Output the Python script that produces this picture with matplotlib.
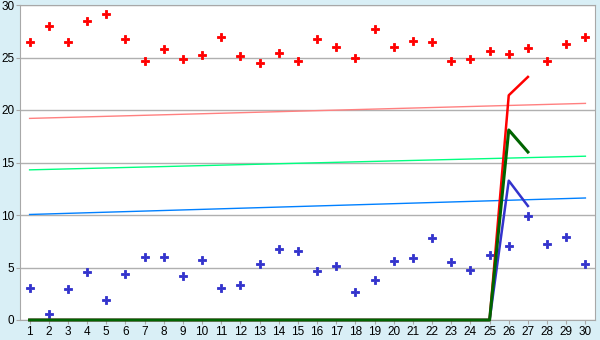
import numpy as np
import matplotlib
matplotlib.use("Agg")
import matplotlib.pyplot as plt

days = list(range(1, 31))

red_pts = [26.45, 27.97, 26.45, 28.44, 29.1, 26.73, 24.63, 25.78, 24.83, 25.2,
           26.92, 25.11, 24.44, 25.4, 24.63, 26.73, 25.97, 25.0, 27.68, 25.97,
           26.54, 26.44, 24.63, 24.83, 25.59, 25.3, 25.87, 24.63, 26.25, 27.0]
blue_pts = [3.02, 0.54, 2.92, 4.54, 1.87, 4.35, 5.97, 5.97, 4.16, 5.68,
            3.02, 3.3, 5.3, 6.73, 6.54, 4.63, 5.11, 2.63, 3.78, 5.59,
            5.87, 7.78, 5.49, 4.73, 6.16, 7.02, 9.87, 7.21, 7.87, 5.3]

# trend lines: value at first and last day
trend_x = [1, 30]
trend_red = [19.2, 20.63]
trend_green = [14.3, 15.6]
trend_blue = [10.05, 11.62]

# daily series (zero until day 25)
line_x = list(range(1, 28))
line_red = [0] * 25 + [21.4, 23.15]
line_green = [0] * 25 + [18.1, 16.0]
line_blue = [0] * 25 + [13.27, 10.86]

plt.rcParams['font.family'] = ['Liberation Sans', 'DejaVu Sans']

fig = plt.figure(figsize=(6, 3.4), dpi=100, facecolor='#d9eff6')
ax = fig.add_axes([20/600, 20/340, 575/600, 315/340])
ax.set_facecolor('white')

ax.plot(trend_x, trend_red, color='#ff8080', lw=1)
ax.plot(trend_x, trend_green, color='#00ff80', lw=1)
ax.plot(trend_x, trend_blue, color='#0080ff', lw=1)

ax.plot(days, red_pts, ls='none', marker='P', ms=5.2, color='#ff0000', mew=0.6)
ax.plot(days, blue_pts, ls='none', marker='P', ms=5.2, color='#3333cc', mew=0.6)

ax.plot(line_x, line_blue, color='#3333cc', lw=1.8, zorder=3, clip_on=False)
ax.plot(line_x, line_red, color='#ff0000', lw=1.8, zorder=3, clip_on=False)
ax.plot(line_x, line_green, color='#006400', lw=2.2, zorder=3, clip_on=False)

ax.set_xlim(0.5, 30.5)
ax.set_ylim(0, 30)
ax.set_xticks(days)
ax.set_yticks(range(0, 31, 5))
ax.yaxis.grid(True, color='#b0b0b0', lw=1)
ax.set_axisbelow(True)
for s in ax.spines.values():
    s.set_color('#a8a8a8')
ax.tick_params(colors='#a8a8a8', labelcolor='black', labelsize=8.5, length=3, pad=1)

fig.savefig('out.png', dpi=100, facecolor=fig.get_facecolor())
